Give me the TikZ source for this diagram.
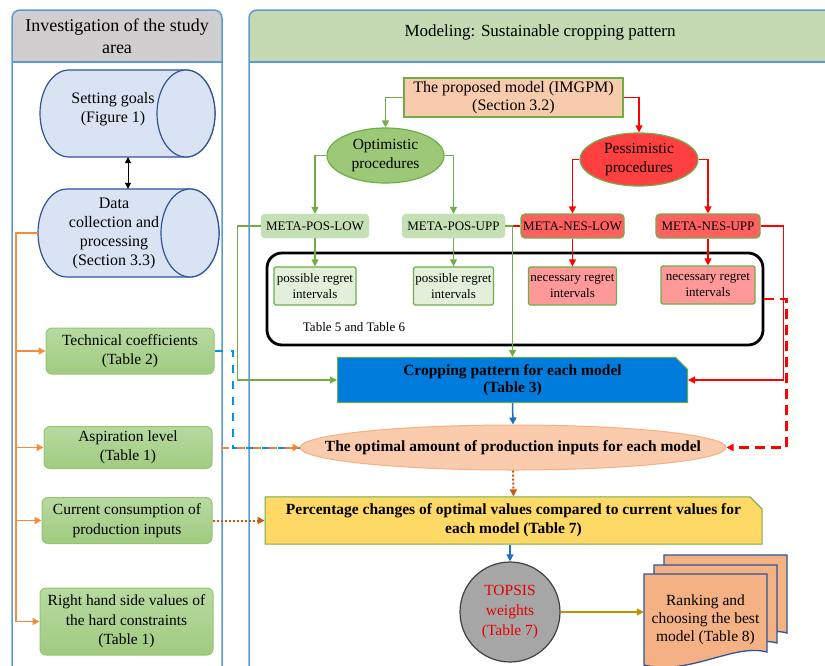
\documentclass[tikz,border=0pt]{standalone}
\usepackage{fontspec}
\setmainfont{Liberation Serif}
\usetikzlibrary{shapes,arrows.meta}
\definecolor{panelblue}{RGB}{91,155,213}
\definecolor{headgray}{RGB}{208,206,206}
\definecolor{headgreen}{RGB}{197,217,178}
\definecolor{cylfill}{RGB}{218,227,243}
\definecolor{cyldraw}{RGB}{47,85,151}
\definecolor{inputtop}{RGB}{183,218,160}
\definecolor{inputbot}{RGB}{160,203,128}
\definecolor{inputline}{RGB}{150,196,115}
\definecolor{linkorange}{RGB}{244,140,60}
\definecolor{ogreen}{RGB}{112,173,71}
\definecolor{optfill}{RGB}{157,200,120}
\definecolor{pesfill}{RGB}{255,64,64}
\definecolor{posfill}{RGB}{197,224,180}
\definecolor{nesfill}{RGB}{255,97,97}
\definecolor{prfill}{RGB}{226,239,218}
\definecolor{nrfill}{RGB}{255,153,153}
\definecolor{propfill}{RGB}{248,203,173}
\definecolor{cropfill}{RGB}{0,125,220}
\definecolor{linkblue}{RGB}{30,110,200}
\definecolor{optimalfill}{RGB}{250,203,173}
\definecolor{optimalline}{RGB}{244,177,131}
\definecolor{dotbrown}{RGB}{197,90,17}
\definecolor{percfill}{RGB}{255,217,102}
\definecolor{topsisfill}{RGB}{166,166,166}
\definecolor{topsisline}{RGB}{64,64,64}
\definecolor{topsisred}{RGB}{230,0,0}
\definecolor{gold}{RGB}{191,144,0}
\definecolor{pagefill}{RGB}{244,177,131}
\definecolor{dashblue}{RGB}{0,150,230}
\definecolor{dashorange}{RGB}{245,130,50}
\tikzstyle{panel_line} = [draw=panelblue, line width=1.5pt]
\tikzstyle{head_text} = [align=center, font=\fontsize{18}{22}\selectfont]
\tikzstyle{cyl_line} = [draw=cyldraw, fill=cylfill, line width=1.2pt]
\tikzstyle{node_cyl} = [rectangle, align=center, inner sep=0pt, font=\fontsize{16}{19}\selectfont]
\tikzstyle{node_input} = [rectangle, rounded corners=6pt, draw=inputline, top color=inputtop, bottom color=inputbot, line width=1pt, align=center, inner sep=1pt, font=\fontsize{15.5}{19.5}\selectfont]
\tikzstyle{node_model} = [rectangle, draw=ogreen, fill=propfill, line width=1.2pt, align=center, inner sep=1pt, font=\fontsize{16}{17.5}\selectfont]
\tikzstyle{node_proc} = [ellipse, draw=ogreen, line width=1.2pt, align=center, inner xsep=0pt, inner ysep=-2pt, font=\fontsize{15.5}{19.5}\selectfont]
\tikzstyle{node_meta_pos} = [rectangle, rounded corners=4pt, draw=posfill, fill=posfill, minimum height=24pt, inner sep=1pt, font=\fontsize{13}{15}\selectfont]
\tikzstyle{node_meta_nes} = [rectangle, rounded corners=4pt, draw=ogreen, fill=nesfill, line width=1.2pt, minimum height=24pt, inner sep=1pt, font=\fontsize{13}{15}\selectfont]
\tikzstyle{node_regret} = [rectangle, rounded corners=1.5pt, draw=ogreen, line width=1.2pt, minimum height=38pt, align=center, inner sep=1pt, font=\fontsize{13}{16}\selectfont]
\tikzstyle{node_tables} = [rectangle, rounded corners=15pt, draw=black, line width=2.8pt]
\tikzstyle{node_crop} = [chamfered rectangle, chamfered rectangle corners=north east, chamfered rectangle xsep=6pt, chamfered rectangle ysep=6pt, draw=ogreen, line width=1pt, align=center, inner sep=1pt, font=\fontsize{15.5}{17}\selectfont\bfseries]
\tikzstyle{node_optimal} = [ellipse, draw=optimalline, fill=optimalfill, line width=1pt, inner xsep=-45pt, inner ysep=0pt, font=\fontsize{15.5}{17}\selectfont\bfseries]
\tikzstyle{node_topsis} = [circle, draw=topsisline, fill=topsisfill, line width=1.2pt, text=topsisred, align=center, inner sep=0pt, minimum size=100pt, font=\fontsize{15.5}{20}\selectfont]
\tikzstyle{node_rank} = [rectangle, align=center, inner sep=0pt, font=\fontsize{15.5}{18}\selectfont]
\tikzstyle{page_line} = [draw=cyldraw, fill=pagefill, line width=1.3pt]
\tikzstyle{edge_arrow} = [-{Triangle[length=7pt,width=7pt]}]
\tikzstyle{edge_black} = [line width=1pt, {Triangle[length=6pt,width=6pt]}-{Triangle[length=6pt,width=6pt]}]
\tikzstyle{edge_orange} = [edge_arrow, draw=linkorange, line width=1.3pt]
\tikzstyle{edge_green} = [edge_arrow, draw=ogreen, line width=1.2pt]
\tikzstyle{edge_red} = [edge_arrow, draw=red, line width=1.2pt]
\tikzstyle{edge_blue} = [edge_arrow, draw=linkblue, line width=1.5pt]
\tikzstyle{edge_red_dashed} = [edge_arrow, draw=red, line width=2.5pt, dash pattern=on 10pt off 6pt]
\tikzstyle{edge_blue_dashed} = [draw=dashblue, line width=2pt, dash pattern=on 8pt off 8pt]
\tikzstyle{edge_orange_dashed} = [edge_arrow, draw=dashorange, line width=2pt, dash pattern=on 8pt off 8pt, dash phase=8pt]
\tikzstyle{edge_dotted} = [edge_arrow, draw=dotbrown, line width=2pt, dash pattern=on 2pt off 2pt]
\tikzstyle{edge_gold} = [edge_arrow, draw=gold, line width=1.5pt]
\newcommand{\rankpage}[2]{\draw[page_line] (#1,#2) -- ++(123,0) -- ++(0,78) .. controls +(-33,-9) and +(45,11) .. ++(-123,13) -- cycle;}

\begin{document}
\begin{tikzpicture}[x=1pt,y=-1pt]
\useasboundingbox (0,0) rectangle (825,665);
\clip (0,0) rectangle (825,665);
% panels
\fill[headgray, rounded corners=8pt] (12,10) rectangle (222,690);
\fill[white] (12,62) rectangle (222,690);
\draw[panel_line, rounded corners=8pt] (12,690) rectangle (222,10);
\draw[panel_line] (12,62) -- (222,62);
\fill[headgreen, rounded corners=8pt] (249,10) rectangle (845,690);
\fill[white] (249,62) rectangle (845,690);
\draw[panel_line, rounded corners=8pt] (249,690) rectangle (845,10);
\draw[panel_line] (249,62) -- (845,62);
\node (studyhead) at (117,36) [head_text] {Investigation of the study\\area};
\node (modelhead) at (540,32) [head_text, font=\fontsize{17}{20}\selectfont] {Modeling: Sustainable cropping pattern};

% study area
\draw[cyl_line] (69,70) -- (186,70) arc[start angle=90, end angle=-90, x radius=29pt, y radius=43.5pt] -- (69,157) arc[start angle=270, end angle=90, x radius=29pt, y radius=43.5pt] -- cycle;
\draw[cyl_line] (186,113.5) ellipse[x radius=29pt, y radius=43.5pt];
\draw[cyl_line] (67,189) -- (190,189) arc[start angle=90, end angle=-90, x radius=29pt, y radius=44pt] -- (67,277) arc[start angle=270, end angle=90, x radius=29pt, y radius=44pt] -- cycle;
\draw[cyl_line] (190,233) ellipse[x radius=29pt, y radius=44pt];
\node (goals) at (113,109) [node_cyl, minimum width=146pt, minimum height=87pt] {Setting goals\\(Figure 1)};
\node (data) at (114,233) [node_cyl, minimum width=152pt, minimum height=88pt] {Data\\collection and\\processing\\(Section 3.3)};
\node (tech) at (130,351) [node_input, minimum width=168pt, minimum height=46pt] {Technical coefficients\\(Table 2)};
\node (aspir) at (128,447.5) [node_input, minimum width=168pt, minimum height=42pt] {Aspiration level\\(Table 1)};
\node (current) at (127,520.5) [node_input, minimum width=170pt, minimum height=46pt] {Current consumption of\\production inputs};
\node (rhs) at (126.5,621.5) [node_input, minimum width=173pt, minimum height=67pt] {Right hand side values of\\the hard constraints\\(Table 1)};
\coordinate (trunk) at (16,233);
\coordinate (goalsfoot) at (128,157);

\draw[edge_black] (goalsfoot) -- (goalsfoot |- data.north);
\draw[edge_orange] (data.west) -- (trunk) |- (tech.west);
\draw[edge_orange] (data.west) -- (trunk) |- (aspir.west);
\draw[edge_orange] (data.west) -- (trunk) |- (current.west);
\draw[edge_orange] (data.west) -- (trunk) |- (rhs.west);

% modeling
\node (proposed) at (513.5,97.5) [node_model, minimum width=219pt, minimum height=39pt] {The proposed model (IMGPM)\\(Section 3.2)};
\node (optim) at (385.5,155.5) [node_proc, fill=optfill, minimum width=117pt, minimum height=55pt] {Optimistic\\procedures};
\node (pessim) at (639,159.5) [node_proc, fill=pesfill, minimum width=118pt, minimum height=53pt] {Pessimistic\\procedures};
\node (poslow) at (315,226) [node_meta_pos, minimum width=108pt] {META-POS-LOW};
\node (posupp) at (453.5,226) [node_meta_pos, minimum width=103pt] {META-POS-UPP};
\node (neslow) at (572.5,226) [node_meta_nes, minimum width=103pt] {META-NES-LOW};
\node (nesupp) at (708,226) [node_meta_nes, minimum width=104pt] {META-NES-UPP};
\node (tables) at (515,299) [node_tables, minimum width=496pt, minimum height=92pt] {};
\node (poslowreg) at (315,286) [node_regret, fill=prfill, minimum width=82pt] {possible regret\\intervals};
\node (posuppreg) at (453.5,286) [node_regret, fill=prfill, minimum width=80pt] {possible regret\\intervals};
\node (neslowreg) at (572.5,286) [node_regret, fill=nrfill, minimum width=88pt] {necessary regret\\intervals};
\node (nesuppreg) at (708,285) [node_regret, fill=nrfill, minimum width=94pt] {necessary regret\\intervals};
\node (tablenote) at (354,327) [font=\fontsize{13}{15}\selectfont] {Table 5 and Table 6};
\node (crop) at (512.5,380) [node_crop, fill=cropfill, minimum width=350pt, minimum height=36pt] {Cropping pattern for each model\\(Table 3)};
\node (optimal) at (513,447.5) [node_optimal, minimum width=426pt, minimum height=45pt] {The optimal amount of production inputs for each model};
\node (perc) at (513.5,520.5) [node_crop, fill=percfill, minimum width=497pt, minimum height=46pt, font=\fontsize{15.5}{19}\selectfont\bfseries] {Percentage changes of optimal values compared to current values for\\each model (Table 7)};
\node (topsis) at (510,612) [node_topsis] {TOPSIS\\weights\\(Table 7)};
\rankpage{664}{555}
\rankpage{654}{565}
\rankpage{644}{574}
\node (rank) at (705.5,620) [node_rank, minimum width=123pt] {Ranking and\\choosing the best\\model (Table 8)};

\draw[edge_green] (proposed.west) -| (optim.north);
\draw[edge_red] (proposed.east) -| (pessim.north);
\draw[edge_green] (optim.west) -| (poslow.north);
\draw[edge_green] (optim.east) -| (posupp.north);
\draw[edge_red] (pessim.west) -| (neslow.north);
\draw[edge_red] (pessim.east) -| (nesupp.north);
\draw[edge_green] (poslow.south) -- (poslowreg.north);
\draw[edge_green] (posupp.south) -- (posuppreg.north);
\draw[edge_red] (neslow.south) -- (neslowreg.north);
\draw[edge_red] (nesupp.south) -- (nesuppreg.north);
\draw[edge_green] (poslow.west) -- ++(-23,0) |- (crop.west);
\draw[edge_green] (posupp.east) -| (crop.north);
\draw[red, line width=1.2pt] (neslow.west) -- (crop.north |- neslow.west);
\draw[edge_red] (nesupp.east) -- ++(23,0) |- (crop.east);
\draw[edge_red_dashed] (tables.east) -- ++(22,0) |- (optimal.east);
\draw[edge_blue] (crop.south) -- (optimal.north);
\draw[edge_blue_dashed] (tech.east) -- ++(18,0) |- (optimal.west);
\draw[edge_orange_dashed] (aspir.east) -- (optimal.west);
\draw[edge_dotted] (optimal.south) -- (perc.north);
\draw[edge_dotted] (current.east) -- (perc.west);
\draw[edge_blue] (topsis.north |- perc.south) -- (topsis.north);
\draw[edge_gold] (topsis.east) -- (topsis.east -| rank.west);
\end{tikzpicture}
\end{document}
